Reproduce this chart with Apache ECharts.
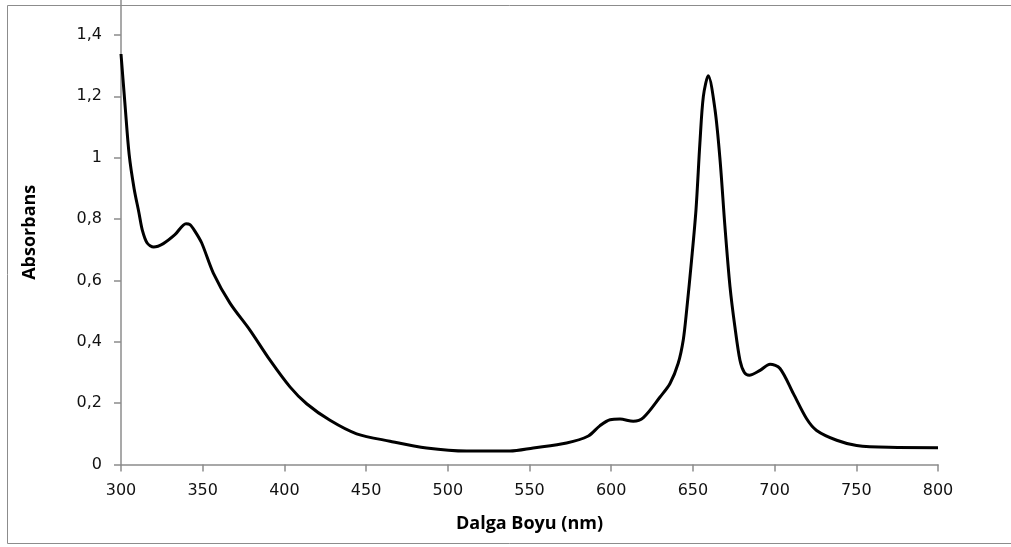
<!DOCTYPE html>
<html>
<head>
<meta charset="utf-8">
<script src="https://cdn.jsdelivr.net/npm/echarts@6/dist/echarts.min.js"></script>
<style>
  html, body { margin: 0; padding: 0; background: #fff; }
  #chart { width: 1011px; height: 547px; }
</style>
</head>
<body>
<div id="chart"></div>
<script>
// wavelength (nm) and absorbance
var wavelength = [300, 302.5, 305, 308, 311, 313, 316, 320, 325.9, 333, 339.8, 342.2, 345.3, 349.4,
  356.5, 366.7, 378.9, 391.2, 403.4, 413.6, 427.9, 444.2, 464.6, 487, 511.5, 538, 552.3, 572.7, 586, 593,
  599.3, 605.4, 613.5, 619.7, 629.9, 636, 641, 644.1, 646.2, 649.2, 651.9, 654.3, 656.4, 659.4, 663.5,
  666.6, 669.6, 672.7, 675.7, 678.8, 681.5, 684.5, 691.1, 697.2, 703.3, 711.5, 719.6, 725.7, 738, 750.2, 770, 800]
var absorbance = [1.338, 1.17, 1.01, 0.9, 0.82, 0.765, 0.722, 0.709, 0.72, 0.749, 0.785, 0.782, 0.76, 0.722,
  0.624, 0.526, 0.438, 0.34, 0.253, 0.198, 0.144, 0.1, 0.076, 0.054, 0.044, 0.044, 0.054, 0.07, 0.093, 0.126,
  0.146, 0.148, 0.141, 0.153, 0.22, 0.264, 0.33, 0.406, 0.504, 0.667, 0.831, 1.049, 1.2, 1.267, 1.158,
  0.994, 0.776, 0.58, 0.449, 0.34, 0.3, 0.291, 0.307, 0.327, 0.313, 0.231, 0.149, 0.111, 0.079, 0.062, 0.056, 0.055]

var xTicks = [300, 800, 50]
var yTicks = [0, 1.514, 0.2]

var chart = echarts.init(document.getElementById('chart'))
var axisGrey = '#8c8c8c'

chart.setOption({
  animation: false,
  graphic: [{
    type: 'rect',
    shape: { x: 7.5, y: 5.5, width: 1010, height: 538 },
    style: { fill: 'none', stroke: axisGrey, lineWidth: 1 },
    z: -1
  }],
  grid: { left: 121, right: 73, top: 0, bottom: 82.5 },
  xAxis: {
    type: 'value',
    min: xTicks[0],
    max: xTicks[1],
    interval: xTicks[2],
    name: 'Dalga Boyu (nm)',
    nameLocation: 'middle',
    nameGap: 50,
    nameTextStyle: { fontFamily: 'Open Sans', fontWeight: 'bold', fontSize: 18, color: '#000' },
    axisLine: { lineStyle: { color: axisGrey, width: 1.5 } },
    axisTick: { show: true, inside: false, length: 7, lineStyle: { color: axisGrey, width: 1.5 } },
    axisLabel: { margin: 18, fontFamily: 'DejaVu Sans', fontSize: 16, color: '#111' },
    splitLine: { show: false }
  },
  yAxis: {
    type: 'value',
    min: yTicks[0],
    max: yTicks[1],
    interval: yTicks[2],
    name: 'Absorbans',
    nameLocation: 'middle',
    nameGap: 82,
    nameTextStyle: { fontFamily: 'Open Sans', fontWeight: 'bold', fontSize: 18, color: '#000' },
    axisLine: { show: true, lineStyle: { color: axisGrey, width: 1.5 } },
    axisTick: { show: true, inside: false, length: 7, lineStyle: { color: axisGrey, width: 1.5 } },
    axisLabel: {
      margin: 19,
      showMaxLabel: false,
      fontFamily: 'DejaVu Sans',
      fontSize: 16,
      color: '#111',
      formatter: function (v) { return String(Math.round(v * 10) / 10).replace('.', ',') }
    },
    splitLine: { show: false }
  },
  series: [{
    type: 'line',
    data: wavelength.map(function (w, i) { return [w, absorbance[i]] }),
    smooth: 0.3,
    showSymbol: false,
    lineStyle: { color: '#000', width: 3 }
  }]
})
</script>
</body>
</html>
